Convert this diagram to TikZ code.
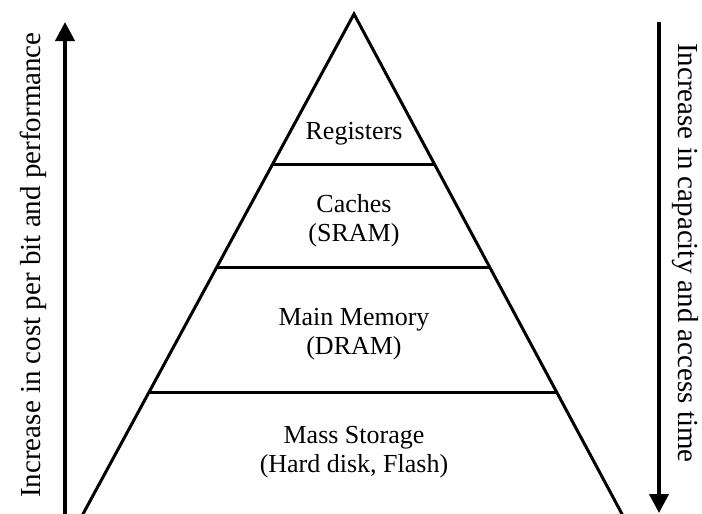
\documentclass[tikz,border=0pt]{standalone}
\usepackage{fontspec}
\setmainfont{Liberation Serif}
\usetikzlibrary{calc,arrows.meta}
\begin{document}
\begin{tikzpicture}[x=1pt,y=-1pt,
  edge/.style={line width=3pt,line join=miter},
  axis/.style={line width=4pt,-{Triangle[width=19pt,length=19pt]}},
  label/.style={font=\fontsize{26}{29}\selectfont,inner sep=0pt,anchor=base},
  sidelabel/.style={font=\fontsize{29}{32}\selectfont,inner sep=0pt,anchor=base}]
  \useasboundingbox (0,0) rectangle (702,514);
  % pyramid outline
  \coordinate (apex) at (354,14);
  \coordinate (bl) at ($(apex)!1.02!(83,514)$);
  \coordinate (br) at ($(apex)!1.02!(622,514)$);
  \draw[edge] (bl) -- (apex) -- (br);
  % level separators
  \coordinate (l1) at ($(apex)!0.300!(83,514)$);
  \coordinate (r1) at ($(apex)!0.300!(622,514)$);
  \coordinate (l2) at ($(apex)!0.506!(83,514)$);
  \coordinate (r2) at ($(apex)!0.506!(622,514)$);
  \coordinate (l3) at ($(apex)!0.756!(83,514)$);
  \coordinate (r3) at ($(apex)!0.756!(622,514)$);
  \draw[edge] (l1) -- (r1);
  \draw[edge] (l2) -- (r2);
  \draw[edge] (l3) -- (r3);
  % level labels
  \node[label] (reg) at (354,139) {Registers};
  \node[label] (cache) at (354,212) {Caches};
  \node[label] (sram) at (354,241) {(SRAM)};
  \node[label] (mm) at (354,325) {Main Memory};
  \node[label] (dram) at (354,354) {(DRAM)};
  \node[label] (ms) at (354,443) {Mass Storage};
  \node[label] (hd) at (354,472) {(Hard disk, Flash)};
  % side arrows
  \coordinate (upA) at (65,516);
  \coordinate (upB) at (65,22);
  \draw[axis] (upA) -- (upB);
  \coordinate (dnA) at (659,22);
  \coordinate (dnB) at (659,513);
  \draw[axis] (dnA) -- (dnB);
  \node[sidelabel,rotate=90] (cost) at (40,265) {Increase in cost per bit and performance};
  \node[sidelabel,rotate=-90] (cap) at (678,253) {Increase in capacity and access time};
\end{tikzpicture}
\end{document}
